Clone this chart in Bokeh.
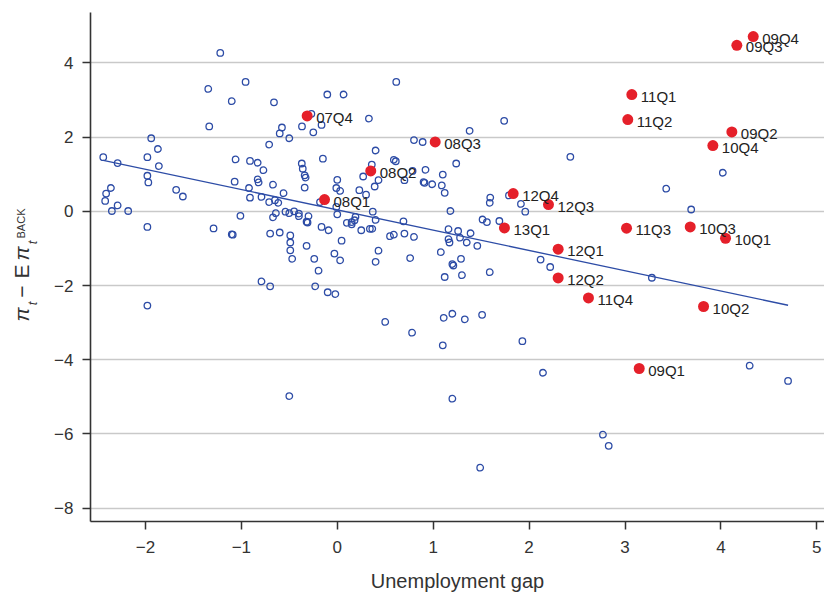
import math
from bokeh.plotting import figure
from bokeh.layouts import row
from bokeh.models import Range1d, FixedTicker, ColumnDataSource
from bokeh.embed import file_html
from bokeh.resources import INLINE
from bokeh.core.properties import value

# ---------------- data ----------------
blue_x = [-1.22, -1.345, -0.956, -1.10, -0.66, -1.335, -0.104, 0.066, 0.615, -0.27,
          0.33, -0.368, -0.164, -0.25, -0.577, -0.60, -0.50, -0.71, 0.80, -1.94,
          -1.87, -2.44, -2.29, -1.86, -1.98, -1.98, -1.97, -2.36, -2.41, -2.42,
          -2.35, -2.29, -2.18, -1.68, -1.61, -1.98, -1.29, -1.06, -0.91, -0.83,
          -0.77, -1.07, -0.83, -0.82, -0.67, -0.92, -0.91, -0.79, -0.56, -0.71,
          -0.65, -0.615, -1.01, -1.10, -1.09, -0.64, -0.67, -0.54, -0.50, -0.45,
          -0.40, -0.40, -0.30, -0.32, -0.31, -0.70, -0.60, -0.49, -0.49, -0.49,
          -0.47, -0.32, -0.24, -0.195, -0.164, -0.09, -0.03, 0.03, 0.045, -0.79,
          -0.70, -0.23, -0.10, -0.02, -0.37, -0.36, -0.34, -0.33, -0.34, -0.15,
          0.0, -0.01, 0.03, 0.23, 0.27, 0.30, 0.36, 0.40, 0.43, 0.39,
          -0.18, -0.01, 0.0, 0.10, 0.15, 0.18, 0.19, 0.15, 0.25, 0.34,
          0.365, 0.37, 0.40, 0.40, 0.43, 0.55, 0.59, 0.69, 0.70, 0.80,
          0.76, 0.59, 0.61, 0.70, 0.785,
          0.89, 1.38, 1.74, 1.24, 2.43, 0.92, 1.10, 0.90, 0.91, 0.99,
          1.09, 1.12, 1.18, 1.595, 1.59, 1.79, 1.915, 1.96, 1.515, 1.56,
          1.69, 1.16, 1.26, 1.39, 1.16, 1.17, 1.28, 1.35, 1.46, 1.08,
          1.29, 1.20, 1.21, 1.30, 1.12, 1.59, 2.12, 2.22, 3.28, 3.43,
          3.69, 4.02,
          -1.98, 0.50, 0.78, 1.11, 1.20, 1.33, 1.51, 1.10, 1.93, 2.145,
          -0.50, 1.20, 1.49, 2.77, 2.83, 4.30, 4.70]
blue_y = [4.27, 3.30, 3.49, 2.97, 2.94, 2.29, 3.15, 3.15, 3.49, 2.63,
          2.50, 2.29, 2.33, 2.13, 2.26, 2.10, 1.97, 1.80, 1.92, 1.97,
          1.68, 1.46, 1.30, 1.22, 1.46, 0.96, 0.78, 0.63, 0.48, 0.28,
          0.01, 0.16, 0.01, 0.58, 0.40, -0.42, -0.46, 1.40, 1.36, 1.31,
          1.11, 0.80, 0.86, 0.78, 0.72, 0.63, 0.37, 0.39, 0.49, 0.25,
          0.30, 0.23, -0.12, -0.62, -0.63, -0.05, -0.16, -0.01, -0.05, 0.0,
          -0.06, -0.13, -0.13, -0.28, -0.30, -0.60, -0.57, -0.65, -0.84, -1.05,
          -1.28, -0.93, -1.28, -1.60, -0.42, -0.51, -1.14, -1.32, -0.79, -1.89,
          -2.02, -2.02, -2.18, -2.23, 1.29, 1.15, 0.97, 0.91, 0.64, 1.42,
          0.85, 0.63, 0.55, 0.57, 0.94, 0.45, 1.26, 1.64, 0.84, 0.67,
          0.25, 0.12, -0.08, -0.31, -0.29, -0.24, -0.15, -0.35, -0.51, -0.47,
          -0.47, -0.01, -0.23, -1.36, -1.06, -0.67, -0.63, -0.27, -0.60, -0.69,
          -1.26, 1.39, 1.35, 0.84, 1.09,
          1.87, 2.17, 2.44, 1.29, 1.47, 1.12, 0.99, 0.79, 0.77, 0.73,
          0.70, 0.50, 0.01, 0.37, 0.23, 0.43, 0.20, -0.01, -0.22, -0.29,
          -0.26, -0.48, -0.53, -0.59, -0.75, -0.84, -0.71, -0.84, -0.93, -1.10,
          -1.28, -1.42, -1.46, -1.72, -1.77, -1.64, -1.30, -1.50, -1.79, 0.61,
          0.05, 1.04,
          -2.54, -2.98, -3.27, -2.87, -2.76, -2.91, -2.79, -3.61, -3.50, -4.35,
          -4.98, -5.05, -6.91, -6.02, -6.32, -4.16, -4.57]

red_labels = ["07Q4", "08Q1", "08Q2", "08Q3", "09Q1", "09Q2", "09Q3", "09Q4",
              "10Q1", "10Q2", "10Q3", "10Q4", "11Q1", "11Q2", "11Q3", "11Q4",
              "12Q1", "12Q2", "12Q3", "12Q4", "13Q1"]
red_x = [-0.314, -0.133, 0.349, 1.021, 3.148, 4.114, 4.166, 4.337,
         4.048, 3.819, 3.680, 3.916, 3.071, 3.029, 3.016, 2.619,
         2.303, 2.303, 2.202, 1.834, 1.743]
red_y = [2.571, 0.318, 1.089, 1.870, -4.236, 2.140, 4.476, 4.710,
         -0.725, -2.565, -0.420, 1.773, 3.147, 2.474, -0.455, -2.334,
         -1.021, -1.795, 0.183, 0.480, -0.447]

fit_intercept = 0.04
fit_slope = -0.547

x_ticks = [-2, -1, 0, 1, 2, 3, 4, 5]
y_ticks = [-8, -6, -4, -2, 0, 2, 4]

# y-axis title pieces: pi_t - E pi_t^BACK
ylab_text = ["\u03c0", "t", "\u2212", "E", "\u03c0", "t", "BACK"]

# ---------------- styling constants ----------------
FONT = "Liberation Sans"
BLUE = "#2d4ca6"
RED = "#e5202a"
AXIS = "#333333"

TOTAL_W, TOTAL_H = 824, 598
LAB_W = 45                       # width of the strip holding the y title
BT, BB = 12, 77                  # top / bottom borders (frames are aligned)
X0, X1 = -2.573, 5.08
Y0, Y1 = -8.36, 5.36

# ---------------- y title strip ----------------
# its frame is aligned with the main frame (page y 12..521), so the y range
# is expressed as (page height - page y) over that frame
lab = figure(width=LAB_W, height=TOTAL_H, output_backend="svg",
             toolbar_location=None, x_axis_type=None, y_axis_type=None,
             x_range=Range1d(0, LAB_W), y_range=Range1d(BB, TOTAL_H - BT),
             min_border_left=0, min_border_right=0,
             min_border_top=BT, min_border_bottom=BB)
lab.outline_line_color = None
lab.xgrid.visible = False
lab.ygrid.visible = False
lab.background_fill_color = "white"
lab.border_fill_color = "white"

# centre of each piece in page pixels, plus font specs
ylab_cx = [21, 32, 21, 21, 21, 32, 20]
ylab_cy = [314, 303, 291, 271, 253, 242, 223]
ylab_fs = ["21px", "13px", "21px", "21px", "21px", "13px", "11px"]
ylab_st = ["italic", "italic", "normal", "normal", "italic", "italic", "normal"]
lab_src = ColumnDataSource(dict(
    x=ylab_cx, y=[TOTAL_H - v for v in ylab_cy], t=ylab_text,
    fs=ylab_fs, st=ylab_st))
lab.text("x", "y", text="t", source=lab_src, angle=math.pi / 2,
         text_align="center", text_baseline="middle",
         text_font=value(FONT), text_font_size="fs", text_font_style="st",
         text_color=AXIS)

# ---------------- main plot ----------------
p = figure(width=TOTAL_W - LAB_W, height=TOTAL_H, output_backend="svg",
           toolbar_location=None,
           x_range=Range1d(X0, X1), y_range=Range1d(Y0, Y1),
           min_border_left=90 - LAB_W, min_border_right=0, min_border_top=BT,
           min_border_bottom=BB)
p.outline_line_color = None
p.background_fill_color = "white"
p.border_fill_color = "white"

p.xgrid.visible = False
p.ygrid.ticker = FixedTicker(ticks=y_ticks)
p.ygrid.grid_line_color = "#c9c9c9"
p.ygrid.grid_line_width = 1.5

for ax, ticks in ((p.xaxis, x_ticks), (p.yaxis, y_ticks)):
    ax.ticker = FixedTicker(ticks=ticks)
    ax.major_label_overrides = {t: str(t).replace("-", "\u2212") for t in ticks}
    ax.axis_line_color = AXIS
    ax.axis_line_width = 1.6
    ax.major_tick_line_color = AXIS
    ax.major_tick_line_width = 1.5
    ax.major_tick_out = 8
    ax.major_tick_in = 0
    ax.minor_tick_out = 0
    ax.minor_tick_in = 0
    ax.major_label_text_font = FONT
    ax.major_label_text_font_size = "17px"
    ax.major_label_text_color = AXIS

p.xaxis.major_label_standoff = 11
p.yaxis.major_label_standoff = 9
p.xaxis.axis_label = "Unemployment gap"
p.xaxis.axis_label_text_font = FONT
p.xaxis.axis_label_text_font_size = "20px"
p.xaxis.axis_label_text_font_style = "normal"
p.xaxis.axis_label_text_color = AXIS
p.xaxis.axis_label_standoff = 14

p.scatter(blue_x, blue_y, marker="circle", size=6.5, fill_color=None,
          line_color=BLUE, line_width=1.3)

fit_x = [min(blue_x + red_x), max(blue_x + red_x)]
fit_y = [fit_intercept + fit_slope * v for v in fit_x]
p.line(fit_x, fit_y, line_color=BLUE, line_width=1.3)

red_src = ColumnDataSource(dict(x=red_x, y=red_y, label=red_labels))
p.scatter("x", "y", source=red_src, marker="circle", size=11,
          fill_color=RED, line_color=None)
p.text("x", "y", text="label", source=red_src, x_offset=9, y_offset=1.5,
       text_baseline="middle", text_align="left", text_font=value(FONT),
       text_font_size="15px", text_color="#222222")

layout = row(lab, p, spacing=0)
open("out.html", "w").write(file_html(layout, INLINE))
